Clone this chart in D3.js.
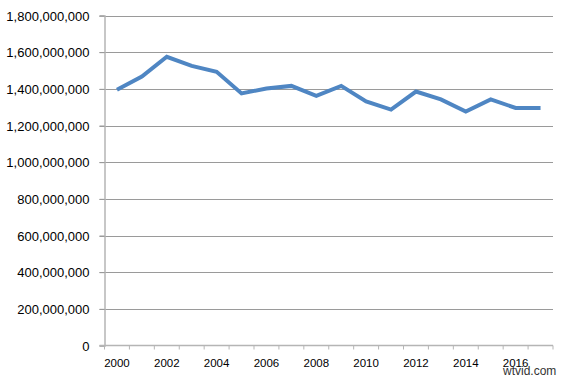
<!DOCTYPE html>
<html>
<head>
<meta charset="utf-8">
<script src="https://cdn.jsdelivr.net/npm/d3@7"></script>
<style>
  body { margin: 0; background: #fff; }
  text { font-family: "Liberation Sans", Arial, sans-serif; fill: #000; }
</style>
</head>
<body>
<svg width="561" height="378"></svg>
<script>
const svg = d3.select("svg");

// data
const years = d3.range(2000, 2018).map(String);
const values = [
  1395e6, 1467e6, 1575e6, 1525e6, 1493e6, 1375e6, 1402e6, 1416e6, 1362e6,
  1416e6, 1331e6, 1287e6, 1385e6, 1342e6, 1276e6, 1342e6, 1296e6, 1296e6
];
const yTicks = d3.range(0, 1800e6 + 1, 200e6);
const xLabels = ["2000", "2002", "2004", "2006", "2008", "2010", "2012", "2014", "2016"];

const margin = { left: 104.5, top: 15.5 };

const x = d3.scaleBand()
  .domain(years)
  .range([margin.left, 553]);

const y = d3.scaleLinear()
  .domain([0, 1800e6])
  .range([345.5, margin.top]);

const fmt = d3.format(",");

// gridlines
svg.append("g")
  .selectAll("line")
  .data(yTicks.filter(d => d > 0))
  .join("line")
    .attr("x1", margin.left - 5)
    .attr("x2", 553)
    .attr("y1", d => Math.round(y(d)) + 0.5)
    .attr("y2", d => Math.round(y(d)) + 0.5)
    .attr("stroke", "#9a9a9a")
    .attr("stroke-width", 1);

// y axis
const yAxis = svg.append("g")
  .attr("transform", `translate(${margin.left},0)`)
  .call(d3.axisLeft(y).tickValues(yTicks).tickFormat(fmt).tickSize(5).tickPadding(10));
yAxis.select(".domain").attr("stroke", "#b5b5b5").attr("stroke-width", 1.5);
yAxis.selectAll(".tick line").attr("stroke", "#9a9a9a");
yAxis.selectAll(".tick text")
  .style("font-size", "13px")
  .attr("dy", "0.35em");

// x axis: ticks between categories, labels every other year
const xAxisG = svg.append("g").attr("transform", `translate(0,${y(0)})`);
xAxisG.append("line")
  .attr("x1", margin.left - 5).attr("x2", 553)
  .attr("stroke", "#b5b5b5").attr("stroke-width", 1.5);
xAxisG.selectAll("line.tick")
  .data(years.concat(["end"]))
  .join("line")
    .attr("class", "tick")
    .attr("x1", (d, i) => margin.left + i * x.step())
    .attr("x2", (d, i) => margin.left + i * x.step())
    .attr("y1", 0).attr("y2", 4)
    .attr("stroke", "#b5b5b5");
xAxisG.selectAll("text")
  .data(xLabels)
  .join("text")
    .attr("x", d => x(d) + x.bandwidth() / 2)
    .attr("y", 21)
    .attr("text-anchor", "middle")
    .style("font-size", "11.5px")
    .text(d => d);

// the line
const line = d3.line()
  .x((d, i) => x(years[i]) + x.bandwidth() / 2)
  .y(d => y(d));

svg.append("path")
  .datum(values)
  .attr("fill", "none")
  .attr("stroke", "#4f86c3")
  .attr("stroke-width", 4)
  .attr("stroke-linejoin", "miter")
  .attr("d", line);

// watermark
svg.append("text")
  .attr("x", 503)
  .attr("y", 375)
  .style("font-size", "12px")
  .style("fill", "#333")
  .text("wtvid.com");
</script>
</body>
</html>
